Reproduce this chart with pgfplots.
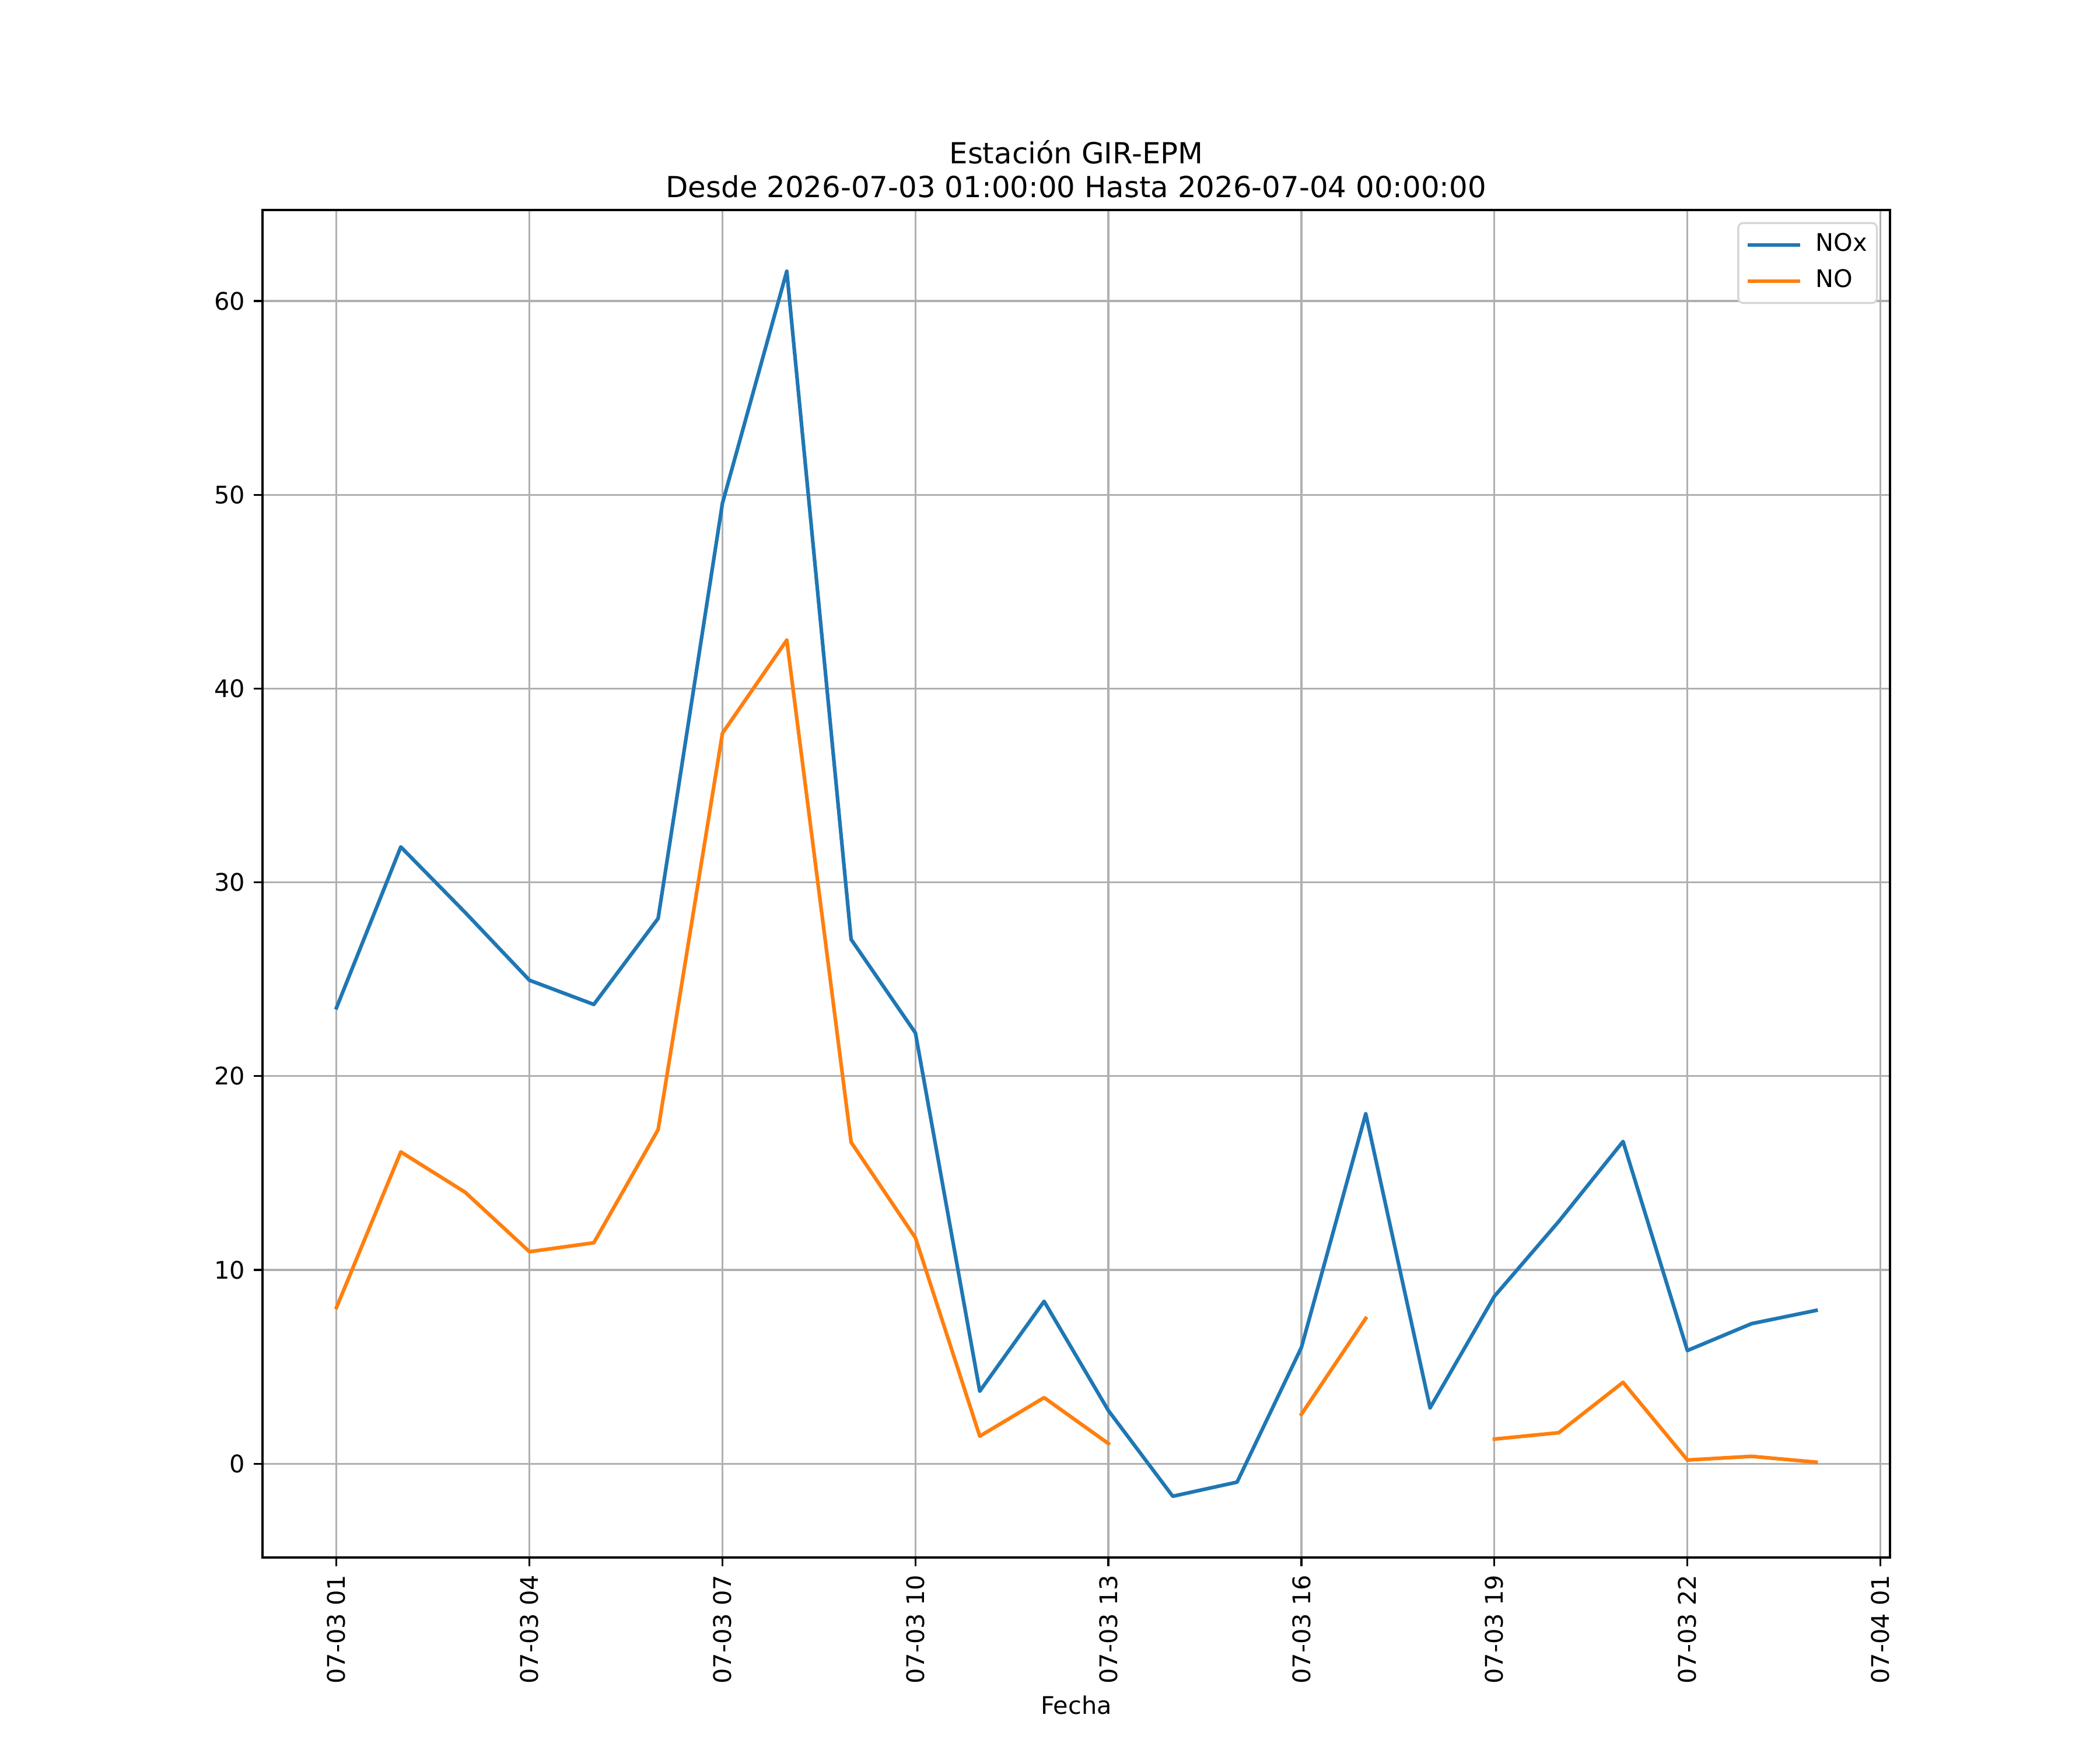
\documentclass[border=0pt]{standalone}
\usepackage{fontspec}
\setmainfont{DejaVu Sans}
\usepackage{pgfplots}
\usepackage{pgfplotstable}
\pgfplotsset{compat=1.18}
\definecolor{tabblue}{HTML}{1F77B4}
\definecolor{taborange}{HTML}{FF7F0E}
\definecolor{gridgray}{HTML}{B0B0B0}
\definecolor{legframe}{HTML}{D6D6D6}
\pgfplotstableread{
h v
0 23.53
1 31.83
2 28.45
3 24.95
4 23.70
5 28.14
6 49.57
7 61.54
8 27.06
9 22.23
10 3.74
11 8.38
12 2.74
13 -1.68
14 -0.95
15 6.00
16 18.06
17 2.88
18 8.64
19 12.50
20 16.63
21 5.84
22 7.23
23 7.91
}\noxdata
\pgfplotstableread{
h v
0 8.06
1 16.09
2 14.01
3 10.94
4 11.40
5 17.24
6 37.70
7 42.50
8 16.59
9 11.66
10 1.42
11 3.41
12 1.04
13 nan
14 nan
15 2.55
16 7.50
17 nan
18 1.27
19 1.60
20 4.20
21 0.19
22 0.38
23 0.08
}\nodata
\begin{document}
\fontsize{10}{12}\selectfont
\begin{tikzpicture}
\useasboundingbox (0,0) rectangle (12in,10in);
\begin{axis}[
  at={(1.5in,1.1in)}, anchor=south west,
  width=9.3in, height=7.7in, scale only axis,
  xmin=-1.15, xmax=24.15, ymin=-4.84, ymax=64.70,
  xtick={0,3,6,9,12,15,18,21,24},
  xticklabels={07-03 01,07-03 04,07-03 07,07-03 10,07-03 13,07-03 16,07-03 19,07-03 22,07-04 01},
  ytick={0,10,20,30,40,50,60},
  /pgf/number format/assume math mode=true,
  tick label style={font=\fontsize{10}{12}\selectfont},
  xticklabel style={rotate=90, anchor=east, inner sep=0pt, xshift=-3.5pt},
  yticklabel style={anchor=east, inner sep=0pt, xshift=-3.5pt},
  tick pos=left,
  tick align=outside,
  major tick length=3.5pt,
  every tick/.style={black, line width=0.8pt},
  axis line style={line width=0.8pt},
  grid=major,
  major grid style={gridgray, line width=0.8pt},
  unbounded coords=jump,
  xlabel={Fecha},
  xlabel style={font=\fontsize{10}{12}\selectfont, yshift=-1.5pt},
  title={Estación GIR-EPM\\Desde 2026-07-03 01:00:00 Hasta 2026-07-04 00:00:00},
  title style={font=\fontsize{12}{13.9}\selectfont, align=center, at={(0.5,1)}, anchor=south, inner sep=0pt, yshift=-1.2pt},
  legend cell align=left,
  legend image code/.code={\draw[#1] (0pt,0pt) -- (20pt,0pt);},
  legend style={at={(1,1)}, anchor=north east, xshift=-5pt, yshift=-5pt,
    draw=legframe, line width=0.8pt, rounded corners=2pt, fill=white,
    inner sep=4pt, row sep=5pt, column sep=6.5pt,
    font=\fontsize{10}{12}\selectfont,
    nodes={inner sep=0pt, text height=7.5pt, text depth=2.5pt}},
]
\addplot[tabblue, line width=1.5pt, line join=round, line cap=rect] table[x=h, y=v] {\noxdata};
\addlegendentry{NOx}
\addplot[taborange, line width=1.5pt, line join=round, line cap=rect] table[x=h, y=v] {\nodata};
\addlegendentry{NO}
\end{axis}
\end{tikzpicture}
\end{document}
